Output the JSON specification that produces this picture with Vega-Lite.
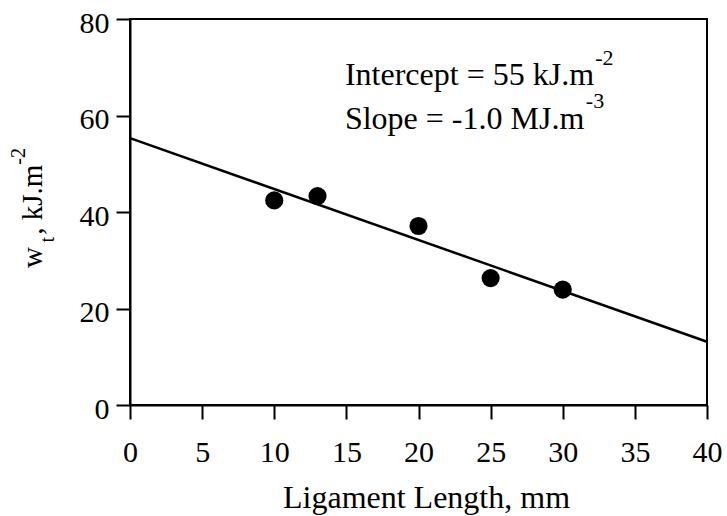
{
  "$schema": "https://vega.github.io/schema/vega-lite/v6.json",
  "autosize": {"type": "none"},
  "padding": {"left": 130, "top": 19, "right": 20, "bottom": 111},
  "width": 577,
  "height": 386,
  "config": {
    "font": "Liberation Serif",
    "view": {"stroke": "black", "strokeWidth": 2},
    "axis": {"domainColor": "black", "domainWidth": 2, "tickColor": "black", "tickWidth": 2, "tickSize": 14, "labelColor": "black", "titleColor": "black", "grid": false, "labelFont": "Liberation Serif", "titleFont": "Liberation Serif", "labelFontSize": 30, "titleFontSize": 32, "titleFontWeight": "normal"}
  },
  "datasets": {
    "points": [
      {"length": 10, "wt": 42.4},
      {"length": 13, "wt": 43.3},
      {"length": 20, "wt": 37.1},
      {"length": 25, "wt": 26.3},
      {"length": 30, "wt": 23.9}
    ],
    "fit": [
      {"length": 0, "wt": 55.3},
      {"length": 40, "wt": 13.1}
    ],
    "labels": [
      {"length": 14.9, "wt": 66.4, "text": "Intercept = 55 kJ.m", "size": 32},
      {"length": 32.25, "wt": 70.5, "text": "-2", "size": 22},
      {"length": 14.9, "wt": 57.1, "text": "Slope = -1.0 MJ.m", "size": 32},
      {"length": 31.6, "wt": 61.6, "text": "-3", "size": 22}
    ],
    "ytitle": [
      {"length": -6.1, "wt": 28.4, "text": "w", "size": 29},
      {"length": -5.3, "wt": 33.7, "text": "t", "size": 20},
      {"length": -6.1, "wt": 35.3, "text": ", kJ.m", "size": 29},
      {"length": -7.3, "wt": 49.8, "text": "-2", "size": 20}
    ]
  },
  "layer": [
    {
      "data": {"name": "fit"},
      "mark": {"type": "line", "color": "black", "strokeWidth": 2.5},
      "encoding": {
        "x": {"field": "length", "type": "quantitative", "scale": {"domain": [0, 40], "nice": false, "zero": false},
              "axis": {"title": "Ligament Length, mm", "values": [0, 5, 10, 15, 20, 25, 30, 35, 40], "labelPadding": 18, "titlePadding": 15, "titleX": 296, "titleAlign": "center", "labelFlush": false}},
        "y": {"field": "wt", "type": "quantitative", "scale": {"domain": [0, 80], "nice": false},
              "axis": {"title": null, "values": [0, 20, 40, 60, 80], "labelPadding": 7, "labelOffset": 4, "labelFlush": false}}
      }
    },
    {
      "data": {"name": "points"},
      "mark": {"type": "point", "shape": "circle", "filled": true, "color": "black", "opacity": 1, "size": 330},
      "encoding": {
        "x": {"field": "length", "type": "quantitative"},
        "y": {"field": "wt", "type": "quantitative"}
      }
    },
    {
      "data": {"name": "labels"},
      "mark": {"type": "text", "align": "left", "baseline": "alphabetic", "color": "black", "font": "Liberation Serif"},
      "encoding": {
        "x": {"field": "length", "type": "quantitative"},
        "y": {"field": "wt", "type": "quantitative"},
        "text": {"field": "text"},
        "size": {"field": "size", "type": "quantitative", "scale": null}
      }
    },
    {
      "data": {"name": "ytitle"},
      "mark": {"type": "text", "align": "left", "baseline": "alphabetic", "angle": 270, "color": "black", "font": "Liberation Serif"},
      "encoding": {
        "x": {"field": "length", "type": "quantitative"},
        "y": {"field": "wt", "type": "quantitative"},
        "text": {"field": "text"},
        "size": {"field": "size", "type": "quantitative", "scale": null}
      }
    }
  ]
}
